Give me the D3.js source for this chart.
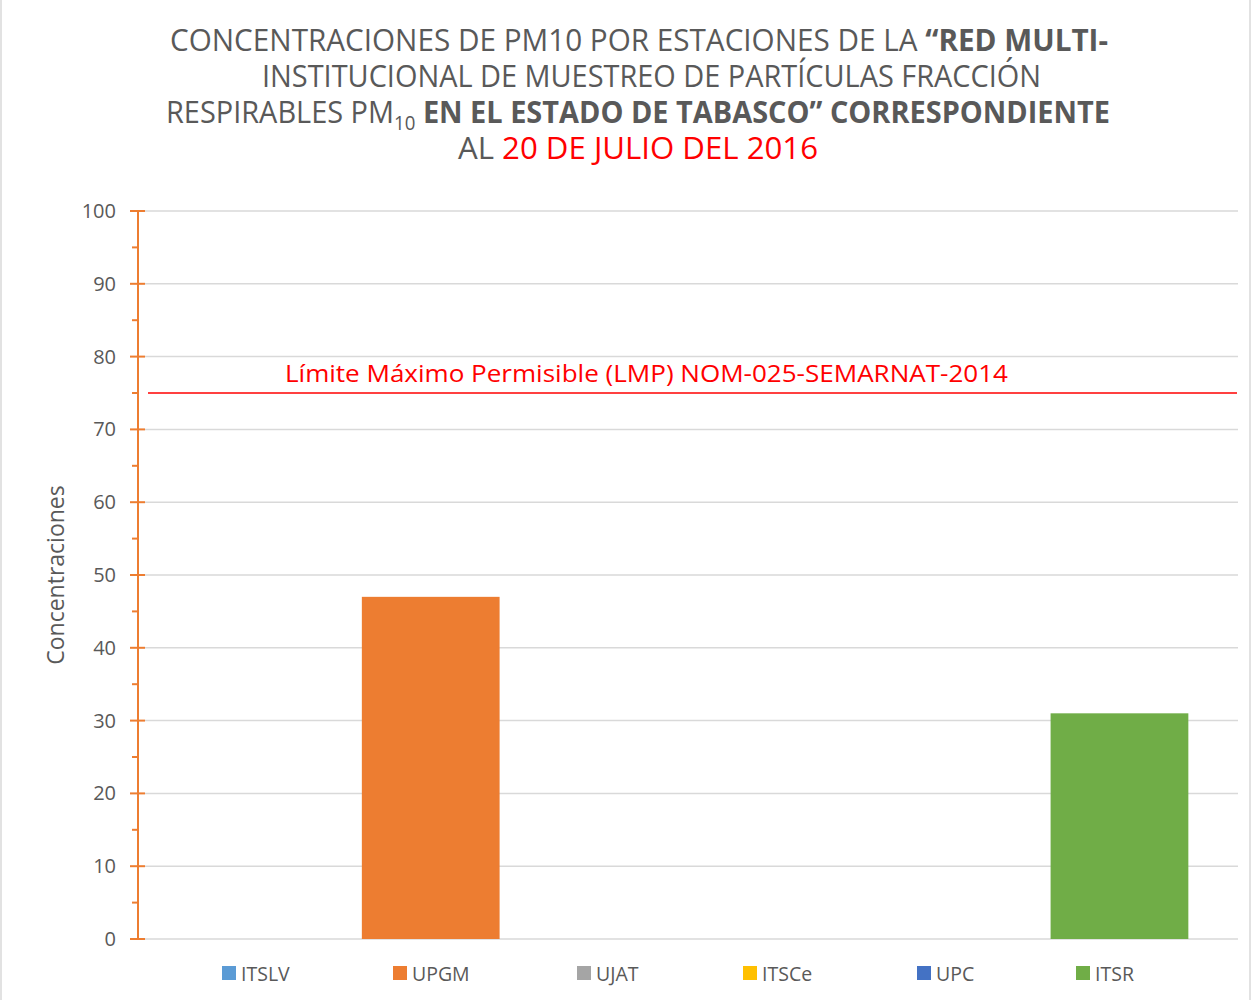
<!DOCTYPE html>
<html>
<head>
<meta charset="utf-8">
<script src="https://cdn.jsdelivr.net/npm/d3@7"></script>
<style>
  body { margin: 0; background: #fff; }
  svg text { font-family: "Open Sans", sans-serif; }
</style>
</head>
<body>
<svg id="chart"></svg>
<script>
(function() {

// ---------- data ----------
const stations = ["ITSLV", "UPGM", "UJAT", "ITSCe", "UPC", "ITSR"];
const values = [0, 47, 0, 0, 0, 31];
const colors = ["#5B9BD5", "#ED7D31", "#A5A5A5", "#FFC000", "#4472C4", "#70AD47"];
const yTicks = [0, 10, 20, 30, 40, 50, 60, 70, 80, 90, 100];
const lmpValue = 75;
const lmpLabel = "Límite Máximo Permisible (LMP) NOM-025-SEMARNAT-2014";

const width = 1253, height = 1000;
const margin = { top: 211, right: 13, bottom: 61, left: 138 };
const gray = "#595959";

const svg = d3.select("#chart").attr("width", width).attr("height", height);

// chart border
svg.append("rect")
  .attr("x", 1).attr("y", -2).attr("width", width - 4).attr("height", height + 4)
  .attr("fill", "none").attr("stroke", "#d9d9d9").attr("stroke-width", 1.5);

// ---------- title (stretched to the reference widths) ----------
const title = svg.append("g").attr("fill", gray).attr("font-size", 31);

const t1 = title.append("text").attr("x", 170).attr("y", 51)
  .attr("textLength", 938).attr("lengthAdjust", "spacingAndGlyphs");
t1.append("tspan").text("CONCENTRACIONES  DE PM10 POR ESTACIONES DE LA ");
t1.append("tspan").attr("font-weight", "bold").text("“RED MULTI-");

title.append("text").attr("x", 262).attr("y", 87)
  .attr("textLength", 779).attr("lengthAdjust", "spacingAndGlyphs")
  .text("INSTITUCIONAL DE MUESTREO DE PARTÍCULAS FRACCIÓN");

const t3 = title.append("text").attr("x", 166).attr("y", 123)
  .attr("textLength", 944).attr("lengthAdjust", "spacingAndGlyphs");
t3.append("tspan").text("RESPIRABLES PM");
t3.append("tspan").attr("font-size", 20).attr("dy", 7).text("10");
t3.append("tspan").attr("dy", -7).attr("font-weight", "bold").text(" EN EL ESTADO DE TABASCO” CORRESPONDIENTE");

const t4 = title.append("text").attr("x", 458).attr("y", 159)
  .attr("textLength", 360).attr("lengthAdjust", "spacingAndGlyphs");
t4.append("tspan").text("AL  ");
t4.append("tspan").attr("fill", "#FF0000").text("20 DE JULIO DEL 2016");

// ---------- scales ----------
const innerLeft = margin.left, innerRight = width - margin.right;
const y = d3.scaleLinear().domain([0, 100]).range([height - margin.bottom, margin.top]);
const x = d3.scaleBand().domain(stations)
  .range([innerLeft, innerRight])
  .paddingInner(0.2).paddingOuter(0.3);

// gridlines
svg.append("g").selectAll("line")
  .data(yTicks)
  .join("line")
    .attr("x1", innerLeft + 7).attr("x2", innerRight - 2)
    .attr("y1", d => y(d)).attr("y2", d => y(d))
    .attr("stroke", "#d9d9d9").attr("stroke-width", 1.5);

// bars
svg.append("g").selectAll("rect")
  .data(stations)
  .join("rect")
    .attr("x", d => x(d))
    .attr("width", x.bandwidth())
    .attr("y", (d, i) => y(values[i]))
    .attr("height", (d, i) => y(0) - y(values[i]))
    .attr("fill", (d, i) => colors[i]);

// y axis (orange with major + minor ticks)
const axisColor = "#ED7D31";
const yAxis = svg.append("g").attr("transform", `translate(${innerLeft},0)`);
yAxis.append("line")
  .attr("x1", 0).attr("x2", 0).attr("y1", y(0)).attr("y2", y(100))
  .attr("stroke", axisColor).attr("stroke-width", 2);
yAxis.selectAll("line.major")
  .data(yTicks)
  .join("line").attr("class", "major")
    .attr("x1", -8).attr("x2", 7)
    .attr("y1", d => y(d)).attr("y2", d => y(d))
    .attr("stroke", axisColor).attr("stroke-width", 2);
yAxis.selectAll("line.minor")
  .data(yTicks.slice(0, -1).map(d => d + 5))
  .join("line").attr("class", "minor")
    .attr("x1", -6).attr("x2", 0)
    .attr("y1", d => y(d)).attr("y2", d => y(d))
    .attr("stroke", axisColor).attr("stroke-width", 2);
yAxis.selectAll("text")
  .data(yTicks)
  .join("text")
    .attr("x", -22).attr("y", d => y(d)).attr("dy", "0.35em")
    .attr("text-anchor", "end").attr("fill", gray)
    .style("font-size", "20px")
    .text(d => d);

// y axis title
svg.append("text")
  .attr("transform", `translate(64,${(y(0) + y(100)) / 2}) rotate(-90)`)
  .attr("text-anchor", "middle").attr("fill", gray)
  .style("font-size", "23px")
  .text("Concentraciones");

// LMP line
svg.append("line")
  .attr("x1", 148).attr("x2", innerRight - 3)
  .attr("y1", y(lmpValue)).attr("y2", y(lmpValue))
  .attr("stroke", "#FF0000").attr("stroke-width", 1.5);
svg.append("text")
  .attr("x", 285).attr("y", 382)
  .attr("fill", "#FF0000")
  .attr("textLength", 723).attr("lengthAdjust", "spacingAndGlyphs")
  .style("font-size", "24px")
  .text(lmpLabel);

// legend
const legendX = [222, 393, 577, 743, 917, 1076];
const legend = svg.append("g").selectAll("g")
  .data(stations)
  .join("g")
    .attr("transform", (d, i) => `translate(${legendX[i]},966)`);
legend.append("rect")
  .attr("width", 14).attr("height", 14)
  .attr("fill", (d, i) => colors[i]);
legend.append("text")
  .attr("x", 19).attr("y", 15)
  .attr("fill", gray)
  .style("font-size", "19.5px")
  .text(d => d);

})();
</script>
</body>
</html>
